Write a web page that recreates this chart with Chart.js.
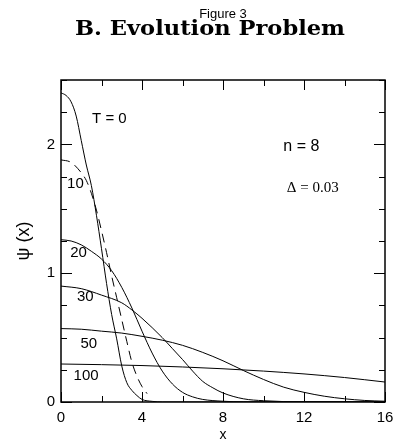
<!DOCTYPE html>
<html>
<head>
<meta charset="utf-8">
<script src="https://cdn.jsdelivr.net/npm/chart.js@4.4.1/dist/chart.umd.min.js"></script>
<style>
  html, body { margin: 0; padding: 0; background: #fff; }
</style>
</head>
<body>
<canvas id="evoChart" width="396" height="440"></canvas>
<script>
// curve values, one pair of arrays per time T
var t0X = [0, 0.25, 0.5, 0.75, 1, 1.25, 1.5, 1.75, 2, 2.25, 2.5, 2.75, 3, 3.25, 3.5, 3.75, 4, 4.5, 5, 16];
var t0Y = [2.40, 2.38, 2.33, 2.22, 2.03, 1.84, 1.68, 1.45, 1.19, 0.92, 0.68, 0.49, 0.28, 0.15, 0.09, 0.05, 0.02, 0.005, 0, 0];

var t10X = [0, 0.5, 1, 1.25, 1.5, 1.75, 2, 2.25, 2.5, 2.75, 3, 3.25, 3.5, 3.75, 4, 4.25];
var t10Y = [1.88, 1.86, 1.78, 1.72, 1.62, 1.49, 1.33, 1.16, 0.98, 0.81, 0.64, 0.47, 0.31, 0.20, 0.12, 0.065];

var t20X = [0, 0.5, 1, 1.5, 2, 2.5, 3, 3.5, 4, 4.5, 5, 5.5, 6, 6.5, 7, 8, 9, 16];
var t20Y = [1.26, 1.25, 1.22, 1.17, 1.11, 1.02, 0.89, 0.73, 0.55, 0.38, 0.24, 0.14, 0.075, 0.04, 0.02, 0.006, 0.001, 0];

var t30X = [0, 1, 2, 3, 3.5, 4, 5, 5.5, 6, 6.5, 7, 7.5, 8, 9, 10, 12, 16];
var t30Y = [0.90, 0.88, 0.83, 0.77, 0.715, 0.65, 0.50, 0.415, 0.33, 0.24, 0.16, 0.11, 0.07, 0.025, 0.01, 0.001, 0];

var t50X = [0, 1, 2, 3, 4, 5, 6, 7, 8, 9, 10, 11, 12, 13, 14, 15, 16];
var t50Y = [0.57, 0.565, 0.55, 0.535, 0.51, 0.48, 0.44, 0.385, 0.32, 0.245, 0.175, 0.115, 0.075, 0.045, 0.025, 0.012, 0.006];

var t100X = [0, 2, 4, 6, 8, 10, 12, 14, 16];
var t100Y = [0.295, 0.29, 0.283, 0.272, 0.258, 0.24, 0.218, 0.19, 0.155];

// text put on the plot, in data coordinates
var noteTexts = ['T = 0', '10', '20', '30', '50', '100'];
var noteX = [2.39, 0.71, 0.87, 1.2, 1.37, 1.24];
var noteY = [2.20, 1.69, 1.157, 0.82, 0.455, 0.2];

var sans = '"Liberation Sans", Arial, Helvetica, sans-serif';

function toPoints(xs, ys) {
  return xs.map(function(x, i) { return {x: x, y: ys[i]}; });
}

function curve(xs, ys, dash) {
  return {
    data: toPoints(xs, ys),
    showLine: true,
    borderColor: '#000',
    borderWidth: 1,
    borderDash: dash || [],
    pointRadius: 0,
    cubicInterpolationMode: 'monotone'
  };
}

var framePlugin = {
  id: 'frame',
  afterDraw: function(chart) {
    var ctx = chart.ctx;
    var a = chart.chartArea;
    var xs = chart.scales.x, ys = chart.scales.y;
    ctx.save();

    // box round the plot
    ctx.strokeStyle = '#000';
    ctx.lineWidth = 1.5;
    ctx.strokeRect(a.left, a.top, a.right - a.left, a.bottom - a.top);

    // inward ticks on all four sides
    ctx.lineWidth = 1;
    ctx.beginPath();
    xs.ticks.forEach(function(t) {
      var px = Math.round(xs.getPixelForValue(t.value)) + 0.5;
      var len = t.value % 4 === 0 ? 10 : 6;
      ctx.moveTo(px, a.bottom); ctx.lineTo(px, a.bottom - len);
      ctx.moveTo(px, a.top); ctx.lineTo(px, a.top + len);
    });
    ys.ticks.forEach(function(t) {
      var py = Math.round(ys.getPixelForValue(t.value)) + 0.5;
      var len = t.value % 1 === 0 ? 11 : 6;
      ctx.moveTo(a.left, py); ctx.lineTo(a.left + len, py);
      ctx.moveTo(a.right, py); ctx.lineTo(a.right - len, py);
    });
    ctx.stroke();

    // curve labels
    ctx.fillStyle = '#000';
    ctx.textAlign = 'center';
    ctx.textBaseline = 'middle';
    ctx.font = '15px ' + sans;
    noteTexts.forEach(function(txt, i) {
      ctx.fillText(txt, xs.getPixelForValue(noteX[i]), ys.getPixelForValue(noteY[i]));
    });
    ctx.font = '16px ' + sans;
    ctx.fillText('n = 8', xs.getPixelForValue(11.87), ys.getPixelForValue(1.98));
    ctx.font = '15px "Liberation Serif", "Times New Roman", serif';
    ctx.fillText('\u0394 = 0.03', xs.getPixelForValue(12.43), ys.getPixelForValue(1.66));

    // headings (the bold one is widened a little, like the extended TeX face)
    ctx.textBaseline = 'alphabetic';
    ctx.font = 'bold 20px "DejaVu Serif", serif';
    var head = 'B. Evolution Problem';
    var sx = 270 / ctx.measureText(head).width;
    ctx.save();
    ctx.translate(210, 35);
    ctx.scale(sx, 1);
    ctx.fillText(head, 0, 0);
    ctx.restore();
    ctx.font = '13px ' + sans;
    ctx.fillText('Figure 3', 223, 17.5);
    ctx.restore();
  }
};

var ctx = document.getElementById('evoChart');
var evoChart = new Chart(ctx, {
  type: 'scatter',
  data: {
    datasets: [
      curve(t0X, t0Y),
      curve(t10X, t10Y, [9, 6]),
      curve(t20X, t20Y),
      curve(t30X, t30Y),
      curve(t50X, t50Y),
      curve(t100X, t100Y)
    ]
  },
  options: {
    responsive: false,
    animation: false,
    devicePixelRatio: 1,
    layout: { padding: { top: 80, right: 11, left: 0, bottom: 0 } },
    plugins: {
      legend: { display: false },
      tooltip: { enabled: false }
    },
    scales: {
      x: {
        type: 'linear',
        min: 0,
        max: 16,
        afterFit: function(s) {
          s.height = 38;
          s.paddingRight = 8;
          s.paddingLeft = 4;
        },
        grid: { display: false, drawTicks: false },
        border: { display: false },
        ticks: {
          stepSize: 2,
          autoSkip: false,
          maxRotation: 0,
          padding: 7,
          color: '#000',
          font: { family: sans, size: 15 },
          callback: function(v) { return v % 4 === 0 ? String(v) : ''; }
        },
        title: {
          display: true,
          text: 'x',
          color: '#000',
          font: { family: sans, size: 14, lineHeight: 1 },
          padding: { top: 0, bottom: -2 }
        }
      },
      y: {
        type: 'linear',
        min: 0,
        max: 2.5,
        afterFit: function(s) { s.width = 61; },
        grid: { display: false, drawTicks: false },
        border: { display: false },
        ticks: {
          stepSize: 0.25,
          autoSkip: false,
          padding: 6,
          color: '#000',
          font: { family: sans, size: 15 },
          callback: function(v) { return v % 1 === 0 ? String(v) : ''; }
        },
        title: {
          display: true,
          text: '\u03c8 (x)',
          color: '#000',
          font: { family: sans, size: 18, lineHeight: 1 },
          padding: { top: 15, bottom: 0 }
        }
      }
    }
  },
  plugins: [framePlugin]
});
</script>
</body>
</html>
